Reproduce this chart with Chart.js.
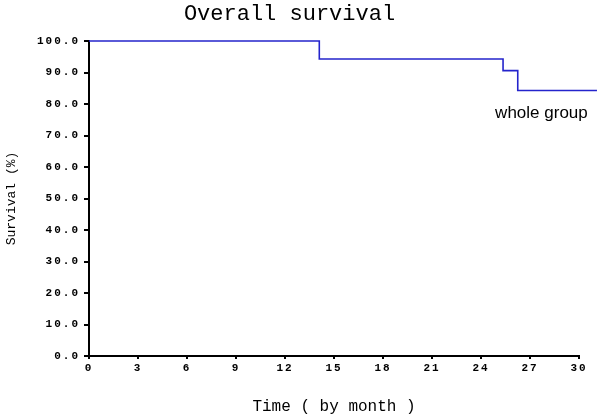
<!DOCTYPE html>
<html>
<head>
<meta charset="utf-8">
<script src="https://cdn.jsdelivr.net/npm/chart.js@4.4.0/dist/chart.umd.min.js"></script>
<style>
  html, body { margin: 0; padding: 0; background: #fff; }
  #wrap { width: 600px; height: 417px; }
</style>
</head>
<body>
<div id="wrap"><canvas id="survChart"></canvas></div>
<script>
// Kaplan-Meier steps
const months = [0, 14.1, 25.35, 26.25, 31.1];
const survival = [100, 94.3, 90.6, 84.3, 84.3];
const xTicks = [0, 3, 6, 9, 12, 15, 18, 21, 24, 27, 30];
const yTicks = [0, 10, 20, 30, 40, 50, 60, 70, 80, 90, 100];
const groupLabel = 'whole group';
const groupLabelAt = [27.7, 77.1]; // month, survival

const mono = 'Liberation Mono, Courier New, monospace';

const labelPlugin = {
    id: 'groupLabel',
    afterDatasetsDraw(chart) {
        const ctx = chart.ctx;
        const x = chart.scales.x.getPixelForValue(groupLabelAt[0]);
        const y = chart.scales.y.getPixelForValue(groupLabelAt[1]);
        ctx.save();
        ctx.font = '17px "Liberation Sans", Arial, sans-serif';
        ctx.fillStyle = '#000';
        ctx.textAlign = 'center';
        ctx.textBaseline = 'middle';
        ctx.fillText(groupLabel, x, y);
        ctx.restore();
    }
};

// the old plot spaces the tick digits out, so widen them a bit
function spacedLabels(scale) {
    if (scale._spaced) return;
    scale._spaced = true;
    const orig = scale.drawLabels;
    scale.drawLabels = function (area) {
        const ctx = this.ctx;
        ctx.save();
        ctx.letterSpacing = '2px';
        orig.call(this, area);
        ctx.restore();
    };
}

const points = months.map(function (m, i) {
    return { x: m, y: survival[i] };
});

new Chart(document.getElementById('survChart'), {
    type: 'line',
    data: {
        datasets: [{
            label: groupLabel,
            data: points,
            stepped: true,
            borderColor: '#2424cc',
            borderWidth: 1.6,
            pointRadius: 0,
            fill: false,
            clip: false
        }]
    },
    options: {
        responsive: true,
        maintainAspectRatio: false,
        animation: false,
        layout: { padding: { left: 0, right: 21, top: 0, bottom: 0 } },
        plugins: {
            legend: { display: false },
            tooltip: { enabled: false },
            title: {
                display: true,
                text: 'Overall survival',
                color: '#000',
                font: { family: mono, size: 22, weight: 'normal' },
                padding: { top: 1, bottom: 13.6 }
            }
        },
        scales: {
            x: {
                type: 'linear',
                min: 0,
                max: 30,
                afterBuildTicks: function (scale) {
                    scale.ticks = xTicks.map(v => ({ value: v }));
                },
                afterFit: function (scale) {
                    scale.height = 61;
                    spacedLabels(scale);
                },
                ticks: {
                    color: '#000',
                    font: { family: mono, size: 11, weight: 'bold' },
                    padding: 3,
                    maxRotation: 0,
                    autoSkip: false
                },
                grid: { drawOnChartArea: false, drawTicks: true, tickLength: 3, color: '#000', lineWidth: 2 },
                border: { color: '#000', width: 2 },
                title: {
                    display: true,
                    text: 'Time ( by month )',
                    color: '#000',
                    font: { family: mono, size: 16, weight: 'normal' },
                    padding: { top: 0, bottom: 1 }
                }
            },
            y: {
                min: 0,
                max: 100,
                afterBuildTicks: function (scale) {
                    scale.ticks = yTicks.map(v => ({ value: v }));
                },
                afterFit: function (scale) {
                    scale.width = 89;
                    spacedLabels(scale);
                },
                ticks: {
                    color: '#000',
                    font: { family: mono, size: 11, weight: 'bold' },
                    padding: 4,
                    autoSkip: false,
                    callback: function (v) { return v.toFixed(1); }
                },
                grid: { drawOnChartArea: false, drawTicks: true, tickLength: 5, color: '#000', lineWidth: 2 },
                border: { color: '#000', width: 2 },
                title: {
                    display: true,
                    text: 'Survival (%)',
                    color: '#000',
                    font: { family: mono, size: 13, weight: 'normal' },
                    padding: { top: 4, bottom: 0 }
                }
            }
        }
    },
    plugins: [labelPlugin]
});
</script>
</body>
</html>
